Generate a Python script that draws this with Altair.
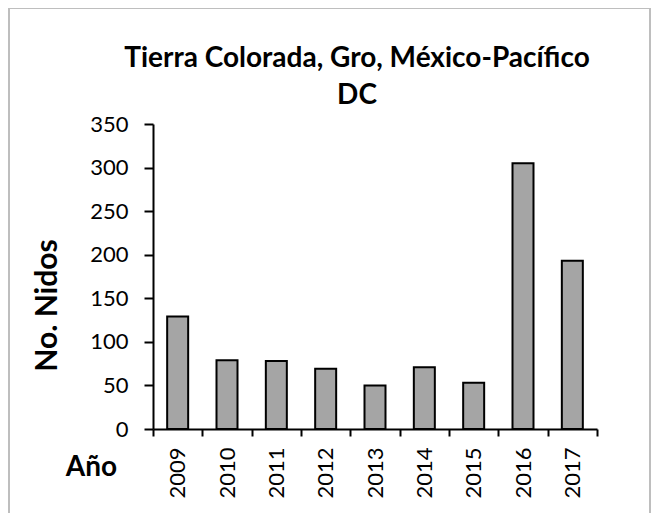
import altair as alt
import pandas as pd

years = ["2009", "2010", "2011", "2012", "2013", "2014", "2015", "2016", "2017"]
nests = [129, 79, 78, 69, 50, 71, 53, 305, 193]
y_ticks = [0, 50, 100, 150, 200, 250, 300, 350]
title_lines = ["Tierra Colorada, Gro, México-Pacífico", "DC"]

df = pd.DataFrame({"Año": years, "Nidos": nests})

FONT = "Lato"
W, H = 444, 305

bars = alt.Chart(df).mark_bar(
    color="#A5A5A5", stroke="black", strokeWidth=2, size=21
).encode(
    x=alt.X("Año:N", sort=years,
            scale=alt.Scale(paddingInner=0, paddingOuter=0),
            axis=alt.Axis(title="Año", tickBand="extent", labelAngle=270,
                          labelAlign="right", labelBaseline="middle",
                          labelFontSize=22, labelPadding=11, labelColor="black",
                          labelFont=FONT,
                          domainColor="black", domainWidth=2, tickColor="black",
                          tickWidth=2, tickSize=7,
                          titleFont=FONT, titleFontSize=28, titleFontWeight="bold",
                          titleAngle=0, titleAlign="center", titleBaseline="alphabetic",
                          titleX=-62, titleY=46, titleColor="black")),
    y=alt.Y("Nidos:Q", scale=alt.Scale(domain=[0, 350], nice=False),
            axis=alt.Axis(title="No. Nidos", values=y_ticks, grid=False,
                          labelFontSize=22, labelFont=FONT, labelColor="black",
                          labelPadding=16,
                          domainColor="black", domainWidth=2, tickColor="black",
                          tickWidth=2, tickSize=9,
                          titleFont=FONT, titleFontSize=30, titleFontWeight="bold",
                          titleColor="black", titleAngle=270, titleAlign="center",
                          titleBaseline="middle", titleX=-106, titleY=181)),
)


def title_line(text, y):
    return alt.Chart(pd.DataFrame({"line": [text]})).mark_text(
        font=FONT, fontSize=28, fontWeight="bold", color="black",
        align="center", baseline="alphabetic",
    ).encode(text="line:N", x=alt.value(204), y=alt.value(y))


border = alt.Chart(df).mark_rect(
    fill=None, stroke="#BEBEBE", strokeWidth=1.5
).encode(
    x=alt.value(-144), x2=alt.value(W + 53),
    y=alt.value(-116), y2=alt.value(H + 150),
)

chart = alt.layer(
    border, bars, title_line(title_lines[0], -57), title_line(title_lines[1], -20)
).properties(
    width=W, height=H,
    autosize=alt.AutoSizeParams(type="none"),
    padding={"left": 145, "top": 116, "right": 54, "bottom": 84},
).configure_view(stroke=None)

chart.save("out.html", embed_options={"renderer": "svg", "actions": False})
